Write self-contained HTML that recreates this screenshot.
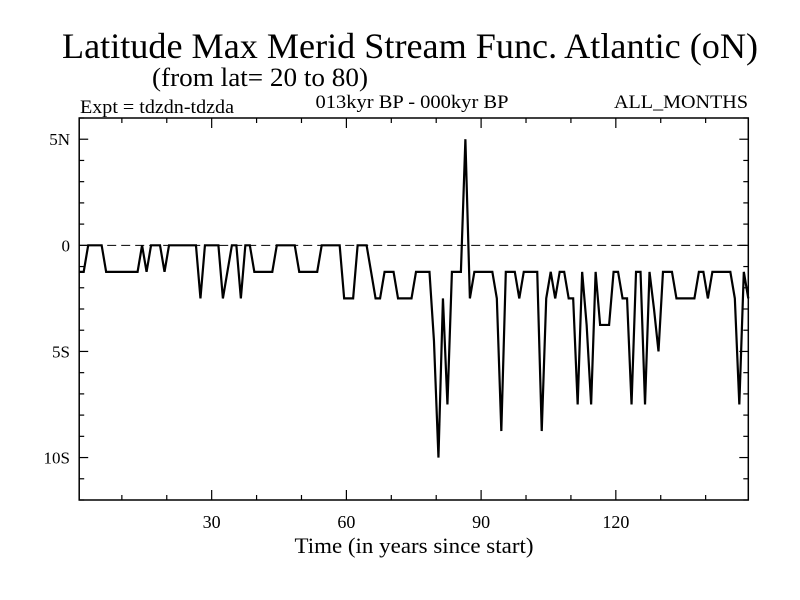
<!DOCTYPE html>
<html><head><meta charset="utf-8"><style>
html,body{margin:0;padding:0;background:#fff;}
svg{display:block;font-family:"Liberation Serif",serif;}
</style></head><body>
<svg id="chart" width="800" height="600" viewBox="0 0 800 600">
<text x="410" y="58" text-anchor="middle" font-size="36" textLength="696" lengthAdjust="spacingAndGlyphs">Latitude Max Merid Stream Func. Atlantic (oN)</text>
<text x="260" y="86" text-anchor="middle" font-size="26" textLength="216" lengthAdjust="spacingAndGlyphs">(from lat= 20 to 80)</text>
<text x="80" y="113" font-size="19" textLength="154" lengthAdjust="spacingAndGlyphs">Expt = tdzdn-tdzda</text>
<text x="412" y="108" text-anchor="middle" font-size="19" textLength="193" lengthAdjust="spacingAndGlyphs">013kyr BP - 000kyr BP</text>
<text x="748" y="108" text-anchor="end" font-size="19" textLength="134" lengthAdjust="spacingAndGlyphs">ALL_MONTHS</text>
<g id="axes"></g>
<g id="series"></g>
<text x="414" y="553" text-anchor="middle" font-size="22" textLength="239" lengthAdjust="spacingAndGlyphs">Time (in years since start)</text>
</svg>
<script>
const values = [-1.25,-1.25,0,0,0,0,-1.25,-1.25,-1.25,-1.25,-1.25,-1.25,-1.25,-1.25,0,-1.25,0,0,0,-1.25,
0,0,0,0,0,0,0,-2.5,0,0,0,0,-2.5,-1.25,0,0,-2.5,0,0,-1.25,
-1.25,-1.25,-1.25,-1.25,0,0,0,0,0,-1.25,-1.25,-1.25,-1.25,-1.25,0,0,0,0,0,-2.5,
-2.5,-2.5,0,0,0,-1.25,-2.5,-2.5,-1.25,-1.25,-1.25,-2.5,-2.5,-2.5,-2.5,-1.25,-1.25,-1.25,-1.25,-4.5,
-10,-2.5,-7.5,-1.25,-1.25,-1.25,5,-2.5,-1.25,-1.25,-1.25,-1.25,-1.25,-2.5,-8.75,-1.25,-1.25,-1.25,-2.5,-1.25,
-1.25,-1.25,-1.25,-8.75,-2.5,-1.25,-2.5,-1.25,-1.25,-2.5,-2.5,-7.5,-1.25,-3.75,-7.5,-1.25,-3.75,-3.75,-3.75,-1.25,
-1.25,-2.5,-2.5,-7.5,-1.25,-1.25,-7.5,-1.25,-3,-5,-1.25,-1.25,-1.25,-2.5,-2.5,-2.5,-2.5,-2.5,-1.25,-1.25,
-2.5,-1.25,-1.25,-1.25,-1.25,-1.25,-2.5,-7.5,-1.25,-2.5];
const xTickValues = [30,60,90,120];
const xMinorTicks = [10,20,40,50,70,80,100,110,130,140];
const yTickValues = [5,0,-5,-10];
const yTickLabels = ["5N","0","5S","10S"];
const yMinorTicks = [6,4,3,2,1,-1,-2,-3,-4,-6,-7,-8,-9,-11,-12];

const X0=79.2, X1=748.3, Y0=118, Y1=500;
const xMin=0.5, xMax=149.5, yMin=-12, yMax=6;
function xs(t){return X0+(t-xMin)/(xMax-xMin)*(X1-X0);}
function ys(v){return Y1-(v-yMin)/(yMax-yMin)*(Y1-Y0);}
const NS="http://www.w3.org/2000/svg";
const axes=document.getElementById('axes');
function mk(tag,attrs,parent){const e=document.createElementNS(NS,tag);for(const k in attrs)e.setAttribute(k,attrs[k]);parent.appendChild(e);return e;}

const frame=mk('rect',{x:X0,y:Y0,width:X1-X0,height:Y1-Y0,fill:'none',stroke:'#000','stroke-width':1.5},axes);



const zl=mk('line',{x1:X0,x2:X1,y1:ys(0),y2:ys(0),stroke:'#000','stroke-width':1,'stroke-dasharray':'9,5'},axes);



xTickValues.forEach(t=>{
  const x=xs(t);
  const a=mk('line',{x1:x,x2:x,y1:Y1,y2:Y1-10,stroke:'#000','stroke-width':1.2},axes);
  
  
  const b=mk('line',{x1:x,x2:x,y1:Y0,y2:Y0+10,stroke:'#000','stroke-width':1.2},axes);
  
  
  const l=mk('text',{x:x,y:Y1+28,'text-anchor':'middle','font-size':18},axes);
  l.textContent=String(t);
  
  
});
xMinorTicks.forEach(t=>{
  const x=xs(t);
  const a=mk('line',{x1:x,x2:x,y1:Y1,y2:Y1-5,stroke:'#000','stroke-width':1.2},axes);
  
  
  const b=mk('line',{x1:x,x2:x,y1:Y0,y2:Y0+5,stroke:'#000','stroke-width':1.2},axes);
  
  
});
yTickValues.forEach((v,i)=>{
  const y=ys(v);
  const a=mk('line',{x1:X0,x2:X0+9,y1:y,y2:y,stroke:'#000','stroke-width':1.2},axes);
  
  
  const b=mk('line',{x1:X1,x2:X1-9,y1:y,y2:y,stroke:'#000','stroke-width':1.2},axes);
  
  
  const l=mk('text',{x:70,y:y+6,'text-anchor':'end','font-size':17},axes);
  l.textContent=yTickLabels[i];
  
  
});
yMinorTicks.forEach(v=>{
  const y=ys(v);
  const a=mk('line',{x1:X0,x2:X0+5,y1:y,y2:y,stroke:'#000','stroke-width':1.2},axes);
  
  
  const b=mk('line',{x1:X1,x2:X1-5,y1:y,y2:y,stroke:'#000','stroke-width':1.2},axes);
  
  
});
const pts=values.map((v,i)=>xs(i+0.5).toFixed(2)+','+ys(v).toFixed(2)).join(' ');
const line=mk('polyline',{points:pts,fill:'none',stroke:'#000','stroke-width':2.2,'stroke-linejoin':'miter'},document.getElementById('series'));


</script>
</body></html>
